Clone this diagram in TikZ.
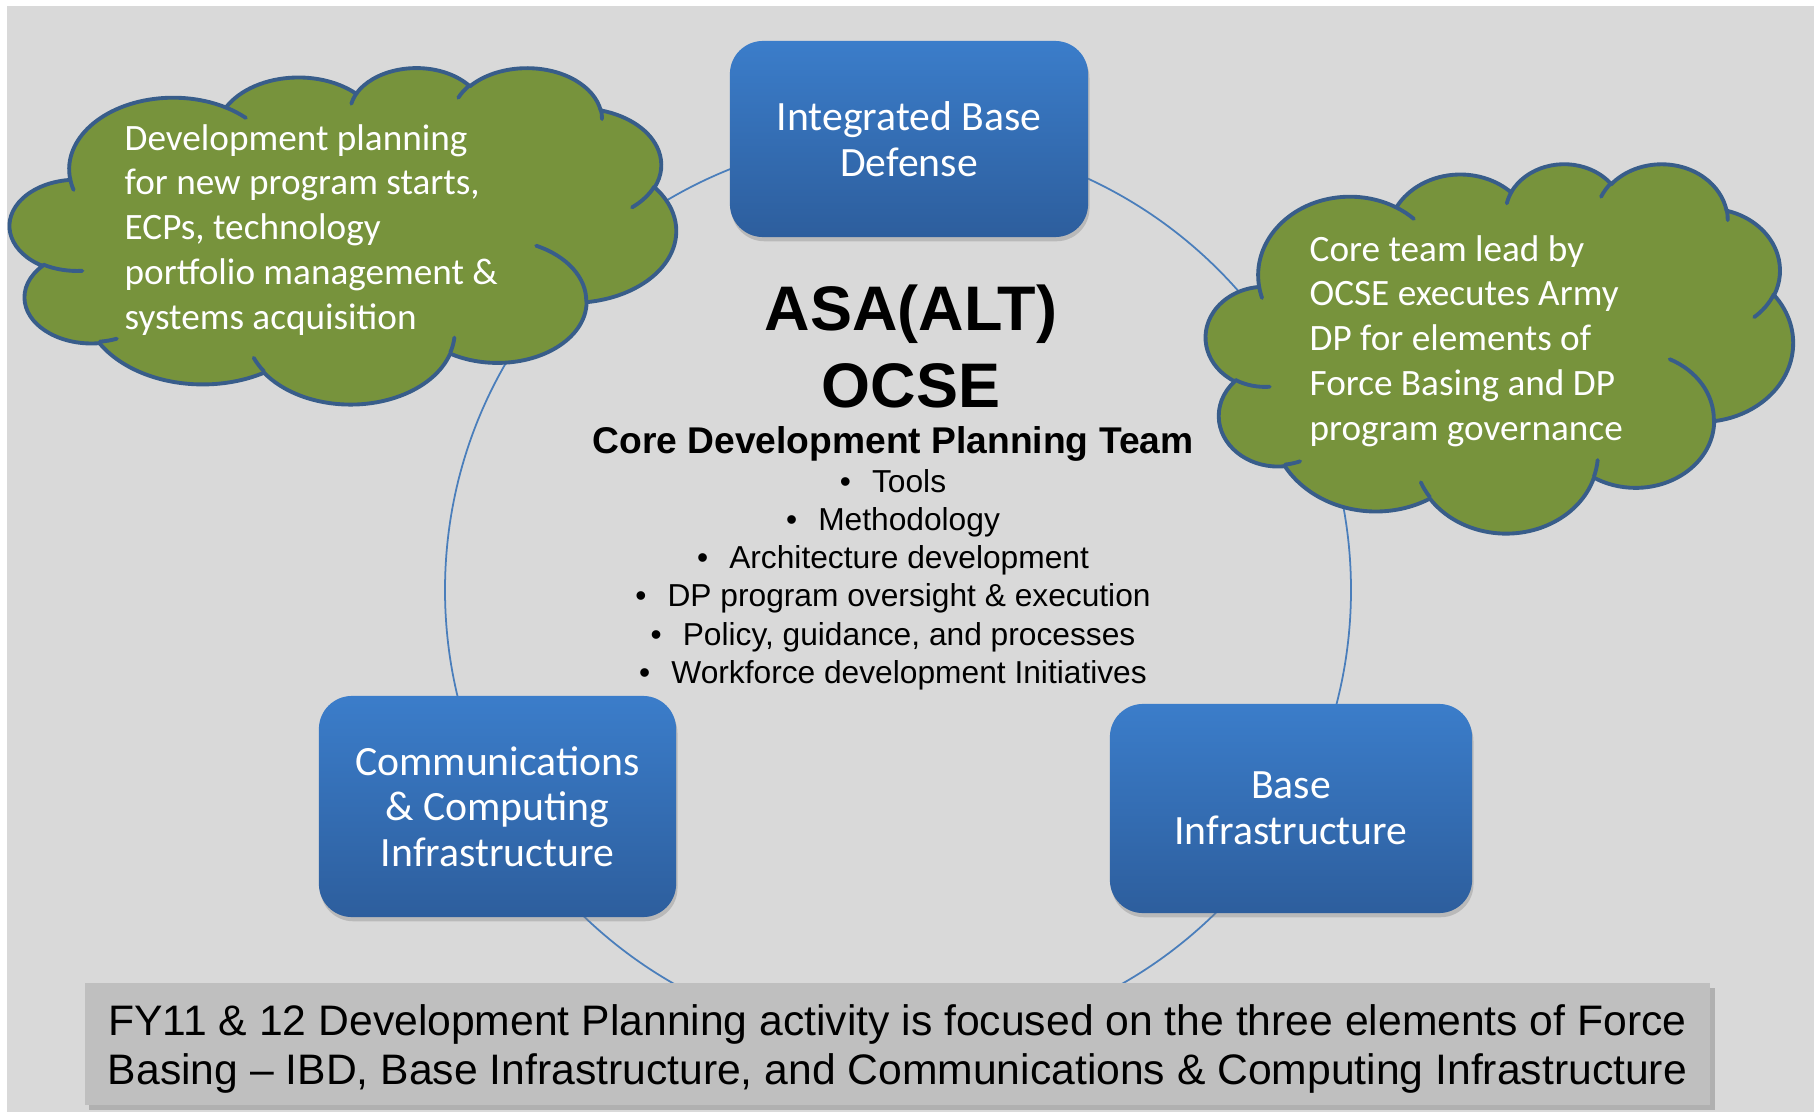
\documentclass[tikz,border=0pt]{standalone}
\usepackage{fontspec}
\setmainfont{Carlito}
\newfontfamily\arialfont{Liberation Sans}
\usetikzlibrary{shadows}

\definecolor{slide}{HTML}{D9D9D9}
\definecolor{ringblue}{HTML}{4A7EBB}
\definecolor{boxtop}{HTML}{3B7DCA}
\definecolor{boxbottom}{HTML}{2D5E9D}
\definecolor{olive}{HTML}{77933C}
\definecolor{cloudedge}{HTML}{385D8A}
\definecolor{notegray}{HTML}{BFBFBF}

% visual angle on an ellipse -> parametric angle
\pgfmathdeclarefunction{vis}{3}{\pgfmathparse{atan2(#1*sin(#3),#2*cos(#3))}}

\tikzset{
  cloudarc/.style n args={4}{insert path={arc[x radius=#1, y radius=#2,
      start angle={vis(#1,#2,#3)},
      delta angle={mod(vis(#1,#2,#3+#4)-vis(#1,#2,#3)+720,360)}]}},
  cloudbody/.style={fill=olive, draw=cloudedge, line width=1.1pt, line join=round},
  cloudline/.style={draw=cloudedge, line width=1.1pt, line cap=round},
  cloudtext/.style={anchor=base west, text=white, inner sep=0pt,
      font=\fontsize{10.58}{12.75}\selectfont},
  element/.style={rounded corners=9.4pt, top color=boxtop, bottom color=boxbottom,
      text=white, align=center, minimum width=3.58cm, minimum height=1.96cm,
      font=\fontsize{11.86}{12.95}\selectfont,
      drop shadow={shadow xshift=0.4pt, shadow yshift=-1.2pt, opacity=0.35}},
  note/.style={fill=notegray, minimum width=16.25cm, minimum height=1.22cm,
      align=center, inner sep=0pt, font=\arialfont\fontsize{12.13}{14}\selectfont,
      drop shadow={shadow xshift=1.4pt, shadow yshift=-1.4pt, opacity=0.45}},
  ringline/.style={draw=ringblue, line width=0.5pt}
}

% cloud in a 4320 x 4320 box: #1,#2 top left corner, #3,#4 units
\newcommand{\olivecloud}[4]{%
  \begin{scope}[shift={(#1,#2)}, x=#3, y=#4]
    \draw[cloudbody] (390,1437)
      [cloudarc={675.3}{919.0}{-190.4875}{123.7805}]
      [cloudarc={533.3}{726.7}{-144.1024}{89.9452}]
      [cloudarc={436.5}{594.5}{-145.8079}{99.7230}]
      [cloudarc={485.7}{659.5}{-130.9861}{117.2417}]
      [cloudarc={533.3}{727.3}{-78.7089}{109.0269}]
      [cloudarc={677.5}{922.0}{-46.2673}{130.2690}]
      [cloudarc={578.5}{786.7}{0.6250}{114.0333}]
      [cloudarc={675.2}{921.5}{22.4516}{115.1726}]
      [cloudarc={772.0}{1054.3}{66.2426}{75.7110}]
      [cloudarc={436.0}{591.8}{-274.9421}{146.7356}]
      [cloudarc={434.5}{594.5}{-246.8285}{152.5189}] -- cycle;
    \draw[cloudline]
      (469.3,2617.7) [cloudarc={434.5}{594.5}{86.7420}{26.4295}]
      (692.8,3489.9) [cloudarc={436.0}{591.8}{73.6105}{11.4475}]
      (1647.8,3909.0) [cloudarc={675.2}{921.5}{137.6241}{14.0811}]
      (2882.7,3475.1) [cloudarc={675.2}{921.5}{6.4533}{15.9984}]
      (3412.9,2295.4) [cloudarc={578.5}{786.7}{-70.2924}{70.9174}]
      (4179.8,1535.4) [cloudarc={533.3}{727.3}{30.3180}{27.7515}]
      (3832.4,542.6) [cloudarc={485.7}{659.5}{-13.7443}{14.8589}]
      (2907.8,395.2) [cloudarc={485.7}{659.5}{-149.1815}{18.1954}]
      (2214.1,472.0) [cloudarc={436.5}{594.5}{-163.4943}{17.6864}]
      (1400.0,519.2) [cloudarc={675.3}{919.0}{-66.7070}{12.3194}]
      (412.7,1578.9) [cloudarc={675.3}{919.0}{157.6544}{11.8582}];
  \end{scope}}

\begin{document}
\begin{tikzpicture}[x=0.01cm, y=-0.01cm]
  \useasboundingbox (0,0) rectangle (1814,1112);
  \fill[slide] (7,6) rectangle (1814,1112);

  % Ring behind the three elements
  \coordinate (ring) at (898,590);
  \draw[ringline] (ring) circle[radius=453];

  % Force Basing elements
  \node[element] (ibd) at (909,139) {Integrated Base\\Defense};
  \node[element, minimum width=3.57cm, minimum height=2.21cm] (cci) at (497.5,806.5)
    {Communications\\\& Computing\\Infrastructure};
  \node[element, minimum width=3.62cm, minimum height=2.09cm] (bi) at (1291,808.5)
    {Base\\Infrastructure};

  % Clouds
  \olivecloud{10}{67}{0.00153935cm}{-0.00078009cm}
  \olivecloud{1206}{163}{0.00136343cm}{-0.00085417cm}
  \node[cloudtext] (planning) at (124,150) {\begin{tabular}[t]{@{}l@{}}
    Development planning\\for new program starts,\\ECPs, technology\\
    portfolio management \&\\systems acquisition\end{tabular}};
  \node[cloudtext] (coreteam) at (1309,261) {\begin{tabular}[t]{@{}l@{}}
    Core team lead by\\OCSE executes Army\\DP for elements of\\
    Force Basing and DP\\program governance\end{tabular}};

  % Centre
  \node[anchor=base, font=\arialfont\bfseries\fontsize{17.9}{21.9}\selectfont] (ocse)
    at (911,330) {\begin{tabular}[t]{@{}c@{}}ASA(ALT)\\OCSE\end{tabular}};
  \node[anchor=base, font=\arialfont\bfseries\fontsize{10.58}{12}\selectfont] (team)
    at (893,453) {Core Development Planning Team};
  \node[anchor=base, font=\arialfont\fontsize{9.02}{10.9}\selectfont] (tasks)
    at (893,492) {\begin{tabular}[t]{@{}c@{}}
    \textbullet\hspace{6pt}Tools\\
    \textbullet\hspace{6pt}Methodology\\
    \textbullet\hspace{6pt}Architecture development\\
    \textbullet\hspace{6pt}DP program oversight \& execution\\
    \textbullet\hspace{6pt}Policy, guidance, and processes\\
    \textbullet\hspace{6pt}Workforce development Initiatives\end{tabular}};

  % Bottom note
  \node[note] (focus) at (897.5,1044)
    {\rule{0pt}{11.8pt}FY11 \& 12 Development Planning activity is focused on the three elements of Force\\
     Basing – IBD, Base Infrastructure, and Communications \& Computing Infrastructure};
\end{tikzpicture}
\end{document}
